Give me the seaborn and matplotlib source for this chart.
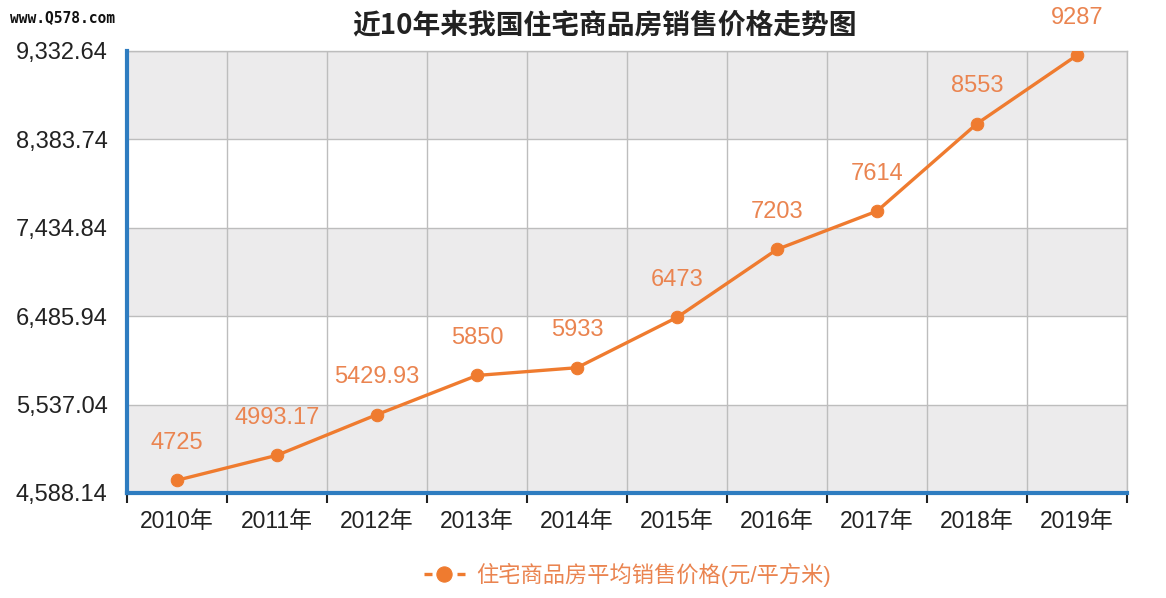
import matplotlib
matplotlib.use("Agg")
import matplotlib.pyplot as plt
import seaborn as sns
import pandas as pd
import numpy as np
from matplotlib.ticker import FixedLocator, FuncFormatter

years = ["2010年", "2011年", "2012年", "2013年", "2014年", "2015年", "2016年", "2017年", "2018年", "2019年"]
prices = [4725, 4993.17, 5429.93, 5850, 5933, 6473, 7203, 7614, 8553, 9287]
price_labels = ["4725", "4993.17", "5429.93", "5850", "5933", "6473", "7203", "7614", "8553", "9287"]
y_ticks = [4588.14, 5537.04, 6485.94, 7434.84, 8383.74, 9332.64]
series_name = "住宅商品房平均销售价格(元/平方米)"
title = "近10年来我国住宅商品房销售价格走势图"
watermark = "www.Q578.com"

sns.set_theme(style="white")
plt.rcParams['font.family'] = ['Liberation Sans', 'Noto Sans CJK SC', 'DejaVu Sans']

df = pd.DataFrame({"idx": np.arange(len(years)), "price": prices, "series": series_name})

fig = plt.figure(figsize=(11.66, 5.98), dpi=100)
ax = fig.add_axes([127/1166, 1 - 493/598, 1000/1166, 442/598])

orange = "#EF7B2F"
label_orange = "#EA8450"
blue = "#2E7CC0"

# alternating bands
for i in range(len(y_ticks) - 1):
    if i % 2 == 0:
        ax.axhspan(y_ticks[i], y_ticks[i + 1], color="#ECEBEC", zorder=0, lw=0)

sns.lineplot(data=df, x="idx", y="price", hue="series", palette=[orange], marker="o",
             markersize=9, markeredgecolor=orange, linewidth=2.4, ax=ax, zorder=3)

for i, (p, lab) in enumerate(zip(prices, price_labels)):
    ax.annotate(lab, (i, p), xytext=(0, 27), textcoords="offset points",
                ha="center", va="center", fontsize=17, color=label_orange, zorder=4,
                annotation_clip=False)

ax.set_xlim(-0.5, len(years) - 0.5)
ax.set_ylim(y_ticks[0], y_ticks[-1])
ax.set_xticks(np.arange(len(years)))
ax.set_xticklabels(years)
ax.xaxis.set_minor_locator(FixedLocator(np.arange(-0.5, len(years), 1.0)))
ax.set_yticks(y_ticks)
ax.yaxis.set_major_formatter(FuncFormatter(lambda v, p: f"{v:,.2f}"))

ax.grid(False)
ax.grid(True, which="minor", axis="x", color="#BDBDBD", lw=1, zorder=1)
ax.grid(True, which="major", axis="y", color="#BDBDBD", lw=1, zorder=1)

ax.tick_params(axis="x", which="major", length=0, labelsize=16.5, labelcolor="#222222", pad=12)
ax.tick_params(axis="x", which="minor", length=7, width=1.5, color="#222222", direction="out", bottom=True)
ax.tick_params(axis="y", which="major", length=0, labelsize=17, labelcolor="#222222", pad=14)

for s in ["top", "right"]:
    ax.spines[s].set_visible(True)
    ax.spines[s].set_color("#BDBDBD")
    ax.spines[s].set_linewidth(1)
for s in ["left", "bottom"]:
    ax.spines[s].set_color(blue)
    ax.spines[s].set_linewidth(3)
    ax.spines[s].set_zorder(5)

ax.set_xlabel("")
ax.set_ylabel("")

leg = ax.legend(loc="upper center", bbox_to_anchor=(0.5, -0.112), frameon=False,
                fontsize=16, handlelength=1.85, handletextpad=0.5)
for t in leg.get_texts():
    t.set_color(label_orange)
for h in leg.get_lines():
    h.set_linestyle((0, (2.4, 7.5)))
    h.set_markersize(11)

fig.text(605/1166, 1 - 25/598, title, ha="center", va="center", fontsize=20,
         fontweight="bold", color="#222222", family=['Noto Sans CJK SC', 'DejaVu Sans'])
fig.text(10/1166, 1 - 18/598, watermark, ha="left", va="center", fontsize=10.5,
         fontweight="bold", color="#111111", family="DejaVu Sans Mono")

fig.patch.set_facecolor("white")
fig.savefig("out.png", dpi=100, facecolor="white")
